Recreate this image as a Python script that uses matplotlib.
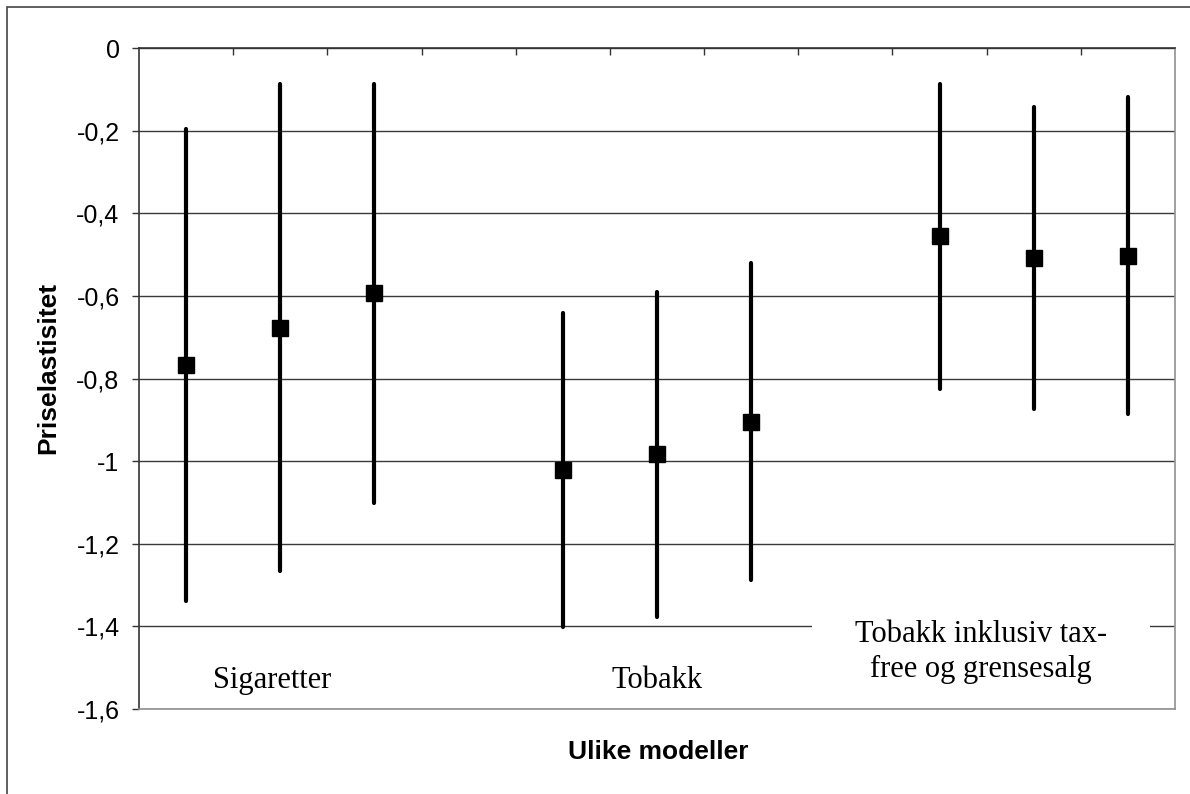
import numpy as np
import matplotlib
matplotlib.use("Agg")
import matplotlib.pyplot as plt
from matplotlib.patches import Rectangle

# price elasticity estimates with confidence bounds, three models per group
groups = ["Sigaretter", "Tobakk", "Tobakk inklusiv tax-\nfree og grensesalg"]
estimate = [-0.767, -0.677, -0.592, -1.021, -0.983, -0.905, -0.455, -0.508, -0.503]
upper = [-0.196, -0.087, -0.087, -0.641, -0.590, -0.520, -0.086, -0.142, -0.118]
lower = [-1.339, -1.266, -1.101, -1.401, -1.377, -1.288, -0.826, -0.874, -0.887]
yticks = [0, -0.2, -0.4, -0.6, -0.8, -1.0, -1.2, -1.4, -1.6]
ytick_labels = ["0", "-0,2", "-0,4", "-0,6", "-0,8", "-1", "-1,2", "-1,4", "-1,6"]

W, H = 1190, 794
fig = plt.figure(figsize=(W / 100, H / 100), dpi=100)
ax = fig.add_axes([139 / W, 1 - 709 / H, 1036 / W, 661 / H])

# 3 models per group, one empty slot between groups
n_per = 3
x = [g * (n_per + 1) + m for g in range(len(groups)) for m in range(n_per)]
est = np.array(estimate)
err = [est - np.array(lower), np.array(upper) - est]

eb = ax.errorbar(x, est, yerr=err, fmt="s", color="black", ms=12, elinewidth=3,
                 capsize=0, zorder=3)
for coll in eb[2]:
    coll.set_capstyle("round")

ax.set_xlim(-0.5, 10.5)
ax.set_ylim(-1.6, 0)
ax.set_yticks(yticks)
ax.set_yticklabels(ytick_labels)
ax.yaxis.grid(True, color="#3a3a3a", lw=1)
ax.set_axisbelow(True)

ax.xaxis.tick_top()
ax.set_xticks(np.arange(0.5, 10, 1))
ax.set_xticklabels([])
ax.tick_params(axis="x", direction="in", length=5, width=1, color="#333333")
ax.tick_params(axis="y", direction="out", length=5, width=1, color="#333333",
               pad=9, labelsize=18)
for lab in ax.get_yticklabels():
    lab.set_family("Liberation Sans")

ax.spines["top"].set_color("#333333")
ax.spines["left"].set_color("#333333")
ax.spines["bottom"].set_color("#909090")
ax.spines["right"].set_color("#909090")
for s in ax.spines.values():
    s.set_linewidth(1.2)

# group names inside the plot
ax.text(0.91, -1.53, groups[0], ha="center", va="center", fontsize=22,
        family="Liberation Serif")
ax.text(5.0, -1.53, groups[1], ha="center", va="center", fontsize=22,
        family="Liberation Serif")
# white box behind the last label breaks the -1,4 gridline
ax.add_patch(Rectangle((8.44 - 1.79, -1.45), 3.58, 0.1, facecolor="white",
                       edgecolor="none", zorder=1))
ax.text(8.44, -1.462, groups[2], ha="center", va="center", fontsize=22,
        family="Liberation Serif", linespacing=1.3, zorder=4)

fig.text(658 / W, 1 - 752 / H, "Ulike modeller", ha="center", va="center",
         fontsize=19, fontweight="bold", family="Liberation Sans")
fig.text(48 / W, 1 - 368 / H, "Priselastisitet", ha="center", va="center",
         rotation=90, fontsize=19, fontweight="bold", family="Liberation Sans")

# outer frame of the chart
fig.patches.append(Rectangle((7 / W, -0.1), 2, 1.1 - 7 / H, fill=False,
                             edgecolor="#444444", lw=1.2,
                             transform=fig.transFigure))

fig.savefig("out.png", dpi=100)
